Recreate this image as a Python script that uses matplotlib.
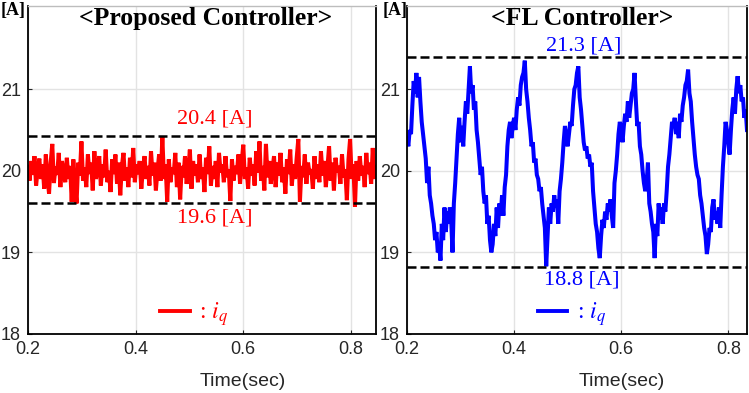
import numpy as np
import matplotlib
matplotlib.use('Agg')
import matplotlib.pyplot as plt
from matplotlib.lines import Line2D

plt.rcParams['mathtext.fontset'] = 'stix'

# iq do controlador proposto (amostras a cada ~3 ms a partir de 0.2 s)
iq_proposto = [
    20.05, 19.88, 20.12, 19.95, 20.18, 19.82, 20.02, 20.15, 19.90, 20.08, 19.78, 20.20,
    19.92, 19.72, 20.10, 20.33, 19.85, 20.05, 19.95, 20.22, 19.80, 20.12, 19.98, 19.86,
    20.16, 19.90, 20.06, 19.62, 20.14, 19.84, 19.60, 20.10, 19.94, 20.36, 19.88, 20.04,
    19.80, 20.20, 19.96, 20.10, 19.76, 20.24, 19.90, 20.02, 20.18, 19.82, 20.08, 19.92,
    20.26, 19.86, 20.00, 19.74, 20.14, 19.96, 20.20, 19.84, 20.10, 19.70, 20.06, 20.22,
    19.88, 20.04, 19.80, 20.16, 19.92, 20.28, 19.86, 20.08, 19.96, 20.12, 19.78, 20.02,
    20.18, 19.90, 20.06, 19.82, 20.24, 19.94, 20.10, 19.76, 20.00, 20.20, 19.88, 20.42,
    19.90, 20.08, 19.62, 20.14, 19.86, 20.04, 19.96, 20.22, 19.80, 20.10, 19.65, 20.06,
    19.92, 20.18, 19.84, 20.00, 20.26, 19.78, 20.12, 19.94, 20.08, 19.86, 20.20, 19.90,
    20.04, 19.74, 20.16, 19.96, 20.30, 19.82, 20.06, 19.90, 20.12, 19.80, 20.22, 19.98,
    20.08, 19.86, 20.18, 19.92, 20.02, 19.63, 20.14, 19.88, 20.06, 19.96, 20.20, 19.84,
    20.10, 20.32, 19.90, 20.04, 19.78, 20.16, 19.94, 20.08, 19.82, 20.24, 19.98, 20.36,
    19.88, 20.06, 19.76, 20.33, 19.92, 20.12, 19.84, 20.02, 20.18, 19.80, 20.10, 19.94,
    20.22, 19.86, 20.04, 19.72, 20.14, 19.96, 20.26, 19.82, 20.08, 19.90, 20.16, 20.39,
    19.62, 20.06, 19.92, 20.20, 19.84, 20.10, 19.96, 20.02, 19.78, 20.18, 19.90, 20.08,
    19.86, 20.24, 19.94, 20.12, 19.80, 20.04, 20.30, 19.88, 20.10, 19.76, 20.16, 19.98,
    20.06, 19.84, 20.20, 19.92, 20.02, 19.64, 20.14, 20.39, 19.90, 20.08, 19.56, 20.12,
    19.88, 20.18, 19.94, 20.06, 19.80, 20.22, 19.96, 20.10, 19.84, 20.28, 19.90, 20.04,
]

# iq do controlador FL (amostras a cada 2.5 ms a partir de 0.2 s)
iq_fl = [
    20.40, 20.30, 20.50, 20.45, 20.80, 21.10, 20.95, 21.20, 20.90, 21.15,
    20.85, 20.60, 20.45, 20.30, 20.15, 19.85, 20.05, 19.70, 19.60, 19.45,
    19.35, 19.15, 19.25, 19.00, 19.10, 18.90, 19.35, 19.15, 19.55, 19.25,
    19.50, 19.35, 19.55, 19.40, 19.00, 19.60, 19.85, 20.15, 20.45, 20.65,
    20.35, 20.55, 20.30, 20.60, 20.85, 20.70, 21.00, 21.28, 20.95, 21.05,
    20.75, 20.85, 20.50, 20.35, 20.15, 19.95, 20.05, 19.75, 19.60, 19.70,
    19.35, 19.45, 19.15, 19.00, 19.10, 19.35, 19.20, 19.55, 19.30, 19.60,
    19.45, 19.70, 19.45, 19.80, 19.95, 20.30, 20.50, 20.60, 20.40, 20.55,
    20.65, 20.50, 20.75, 20.90, 20.80, 21.05, 21.15, 21.20, 21.35, 21.00,
    20.85, 20.65, 20.50, 20.30, 20.35, 20.10, 20.15, 19.95, 19.90, 19.75,
    19.80, 19.60, 19.45, 19.30, 18.83, 19.20, 19.55, 19.35, 19.60, 19.50,
    19.70, 19.55, 19.65, 19.35, 19.75, 19.90, 20.10, 20.35, 20.55, 20.40,
    20.30, 20.45, 20.60, 20.55, 20.80, 21.00, 21.05, 21.20, 21.28, 20.90,
    20.75, 20.55, 20.35, 20.25, 20.30, 20.15, 20.20, 20.05, 20.10, 19.75,
    19.55, 19.35, 19.25, 19.05, 18.93, 19.20, 19.40, 19.30, 19.50, 19.40,
    19.60, 19.50, 19.65, 19.45, 19.30, 19.85, 20.00, 20.20, 20.45, 20.60,
    20.50, 20.35, 20.55, 20.70, 20.60, 20.85, 20.65, 20.80, 20.95, 21.00,
    21.20, 20.85, 20.55, 20.60, 20.30, 20.20, 20.00, 19.85, 19.75, 19.85,
    20.10, 19.60, 19.50, 19.35, 19.25, 18.93, 19.35, 19.20, 19.60, 19.40,
    19.55, 19.35, 19.60, 19.50, 19.75, 20.05, 20.20, 20.40, 20.60, 20.55,
    20.65, 20.45, 20.60, 20.40, 20.70, 20.60, 20.80, 20.90, 21.05, 21.10,
    21.24, 20.95, 20.85, 20.60, 20.40, 20.20, 20.05, 19.95, 19.90, 19.70,
    19.60, 19.45, 19.30, 19.20, 18.98, 19.10, 19.30, 19.25, 19.55, 19.65,
    19.40, 19.50, 19.35, 19.55, 19.30, 19.70, 20.05, 20.30, 20.60, 20.50,
    20.35, 20.20, 20.50, 20.75, 20.90, 20.70, 21.00, 21.16, 20.95, 21.05,
    20.85, 20.90, 20.65, 20.75, 20.50,
]

limites_proposto = [20.43, 19.6]
rotulos_proposto = ['20.4 [A]', '19.6 [A]']
limites_fl = [21.39, 18.82]
rotulos_fl = ['21.3 [A]', '18.8 [A]']

xticks = [0.2, 0.4, 0.6, 0.8]
yticks = [18, 19, 20, 21]

t_proposto = np.linspace(0.2, 0.8466, len(iq_proposto))
t_fl = np.linspace(0.2, 0.835, len(iq_fl))

W, H = 749, 393
fig = plt.figure(figsize=(W / 100, H / 100), dpi=100)

serif = 'Liberation Serif'
sans = 'Liberation Sans'


def montar_eixo(left_px, right_px, t, iq, cor, limites, rotulos, titulo,
                x_titulo, pos_rotulos, x_leg, x_time):
    ax = fig.add_axes([left_px / W, 1 - 334 / H, (right_px - left_px) / W, 328 / H])
    ax.plot(t, iq, color=cor, lw=2.9, solid_joinstyle='miter')
    for v in limites:
        ax.axhline(v, color='black', lw=1.8, linestyle=(0, (3.6, 1.6)))
    ax.set_xlim(t[0], t[-1])
    ax.set_ylim(18, 22.02)
    ax.set_xticks(xticks)
    ax.set_yticks(yticks)
    ax.set_xticklabels([f'{x:.1f}' for x in xticks], fontfamily=sans, fontsize=13, color='#262626')
    ax.set_yticklabels([str(y) for y in yticks], fontfamily=sans, fontsize=13, color='#262626')
    ax.tick_params(direction='in', length=3, width=0.8, pad=5, colors='#262626')
    ax.grid(True, color='#e3e3e3', lw=1.0)
    ax.set_axisbelow(True)
    for lado in ['left', 'bottom', 'right']:
        ax.spines[lado].set_color('black')
        ax.spines[lado].set_linewidth(1.3)
    ax.spines['top'].set_color('#bdbdbd')
    ax.spines['top'].set_linewidth(1.0)

    ax.text(x_titulo, 0.962, titulo, transform=ax.transAxes, ha='center', va='center',
            fontfamily=serif, fontweight='bold', fontsize=18.5)
    for (xr, yr), txt in zip(pos_rotulos, rotulos):
        ax.text(xr, yr, txt, transform=ax.transAxes, ha='center', va='center',
                fontfamily=serif, fontsize=16, color=cor)

    h = Line2D([], [], color=cor, lw=2.8)
    ax.legend([h], [': $i_q$'], loc='center left', bbox_to_anchor=(x_leg, 0.06),
              frameon=False, handlelength=1.25, handletextpad=0.4,
              prop={'family': serif, 'size': 17}, labelcolor=cor,
              borderaxespad=0, borderpad=0)
    fig.text(x_time / W, 1 - 381 / H, 'Time(sec)', ha='center', va='center',
             fontfamily=sans, fontsize=14, color='#262626')
    return ax


ax1 = montar_eixo(28, 376, t_proposto, iq_proposto, '#ff0000', limites_proposto,
                  rotulos_proposto, '<Proposed Controller>', 0.509,
                  [(0.538, 0.655), (0.538, 0.355)], 0.38, 243)
ax2 = montar_eixo(407, 747, t_fl, iq_fl, '#0000ff', limites_fl, rotulos_fl,
                  '<FL Controller>', 0.515,
                  [(0.52, 0.877), (0.515, 0.165)], 0.385, 622)

fig.text(13.5 / W, 1 - 11 / H, '[A]', ha='center', va='center', fontfamily=serif,
         fontweight='bold', fontsize=13)
fig.text(395 / W, 1 - 11 / H, '[A]', ha='center', va='center', fontfamily=serif,
         fontweight='bold', fontsize=13)

fig.savefig('out.png', dpi=100)
